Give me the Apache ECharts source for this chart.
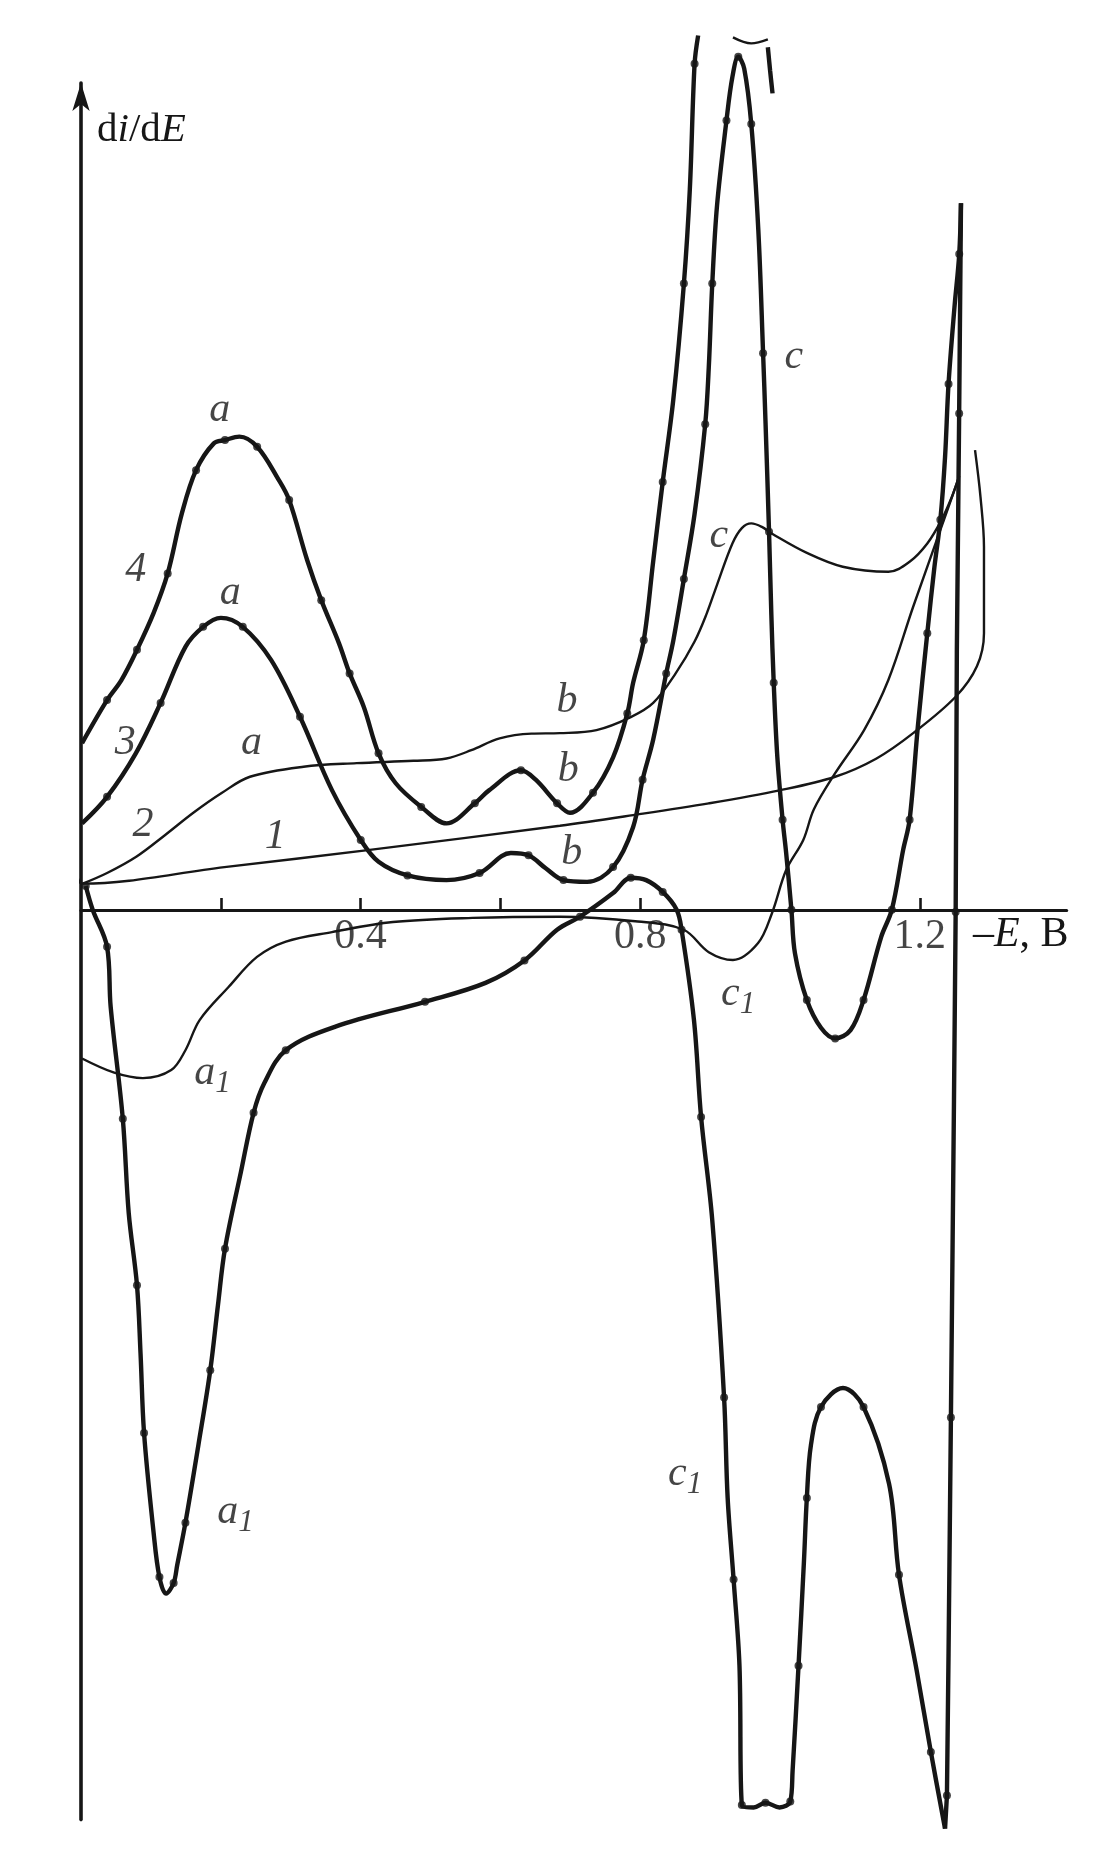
<!DOCTYPE html>
<html><head><meta charset="utf-8">
<script src="https://cdn.jsdelivr.net/npm/echarts@6/dist/echarts.min.js"></script>
<style>html,body{margin:0;padding:0;background:#fff}#c{width:1114px;height:1852px}</style>
</head><body><div id="c"></div>
<script>
// Potential E (as -E, V) and derivative di/dE (arbitrary units)
const curve1 = [[-0.0571,0.243],[-0.0450,0.353],[-0.0314,0.406],[-0.0196,0.393],[-0.0095,0.343],[0.0024,0.223],
 [0.2052,0.363],[0.4103,0.507],[0.6851,0.713],[0.7899,0.803],[0.8981,0.903],[0.9994,1.013],[1.0789,1.128],[1.1381,1.283],
 [1.1905,1.497],[1.2513,1.805],[1.2817,2.063],[1.2918,2.343],[1.2918,3.073],[1.2868,3.498],[1.2790,3.893]];

const curve2Forward = [[0.0024,0.223],[0.0373,0.313],[0.0796,0.453],[0.1200,0.633],[0.1607,0.823],[0.2012,0.990],[0.2417,1.128],
 [0.3184,1.213],[0.3944,1.243],[0.4756,1.263],[0.5229,1.283],[0.5584,1.353],[0.5989,1.453],[0.6446,1.493],[0.6851,1.497],
 [0.7375,1.523],[0.7865,1.633],[0.8186,1.753],[0.8507,2.003],[0.8778,2.273],[0.8947,2.503],[0.9099,2.753],[0.9319,3.103],
 [0.9454,3.233],[0.9589,3.273],[0.9741,3.243],[0.9893,3.183],[1.0384,3.023],[1.0897,2.906],[1.1550,2.863],[1.1854,2.948],
 [1.2107,3.103],[1.2311,3.303],[1.2462,3.503],[1.2564,3.673]];

const curve2Reverse = [[1.2564,3.673],[1.2411,3.413],[1.1905,2.567],[1.1550,1.947],[1.1203,1.523],[1.0789,1.158],[1.0485,0.853],
 [1.0333,0.593],[1.0088,0.338],[0.9885,-0.027],[0.9684,-0.282],[0.9327,-0.423],[0.8981,-0.357],[0.8622,-0.167],[0.7967,-0.097],
 [0.6851,-0.057],[0.5601,-0.067],[0.4462,-0.102],[0.3590,-0.187],[0.2931,-0.267],[0.2518,-0.397],[0.2111,-0.652],[0.1697,-0.932],
 [0.1494,-1.187],[0.1291,-1.355],[0.0886,-1.423],[0.0475,-1.377],[0.0015,-1.257]];

const curve3Forward = [[0.0015,0.733],[0.0373,0.958],[0.0784,1.326],[0.1139,1.753],[0.1494,2.228],[0.1747,2.397],[0.2001,2.473],
 [0.2314,2.397],[0.2721,2.115],[0.3133,1.636],[0.3590,1.015],[0.4002,0.593],[0.4257,0.408],[0.4671,0.293],[0.5229,0.253],
 [0.5702,0.313],[0.6150,0.483],[0.6403,0.463],[0.6648,0.353],[0.6902,0.253],[0.7240,0.238],[0.7612,0.363],[0.7899,0.703],
 [0.8034,1.103],[0.8186,1.443],[0.8372,2.003],[0.8474,2.283],[0.8625,2.803],[0.8778,3.353],[0.8930,4.113],[0.8981,4.593],
 [0.9031,5.303],[0.9099,5.963],[0.9234,6.683],[0.9319,7.053],[0.9403,7.223],[0.9488,7.123],[0.9589,6.653],[0.9690,5.753],
 [0.9758,4.713],[0.9792,4.143],[0.9843,3.203],[0.9876,2.503],[0.9910,1.923],[0.9961,1.303],[1.0037,0.763],[1.0088,0.483],
 [1.0163,0.003],[1.0214,-0.367],[1.0384,-0.762],[1.0586,-0.997],[1.0789,-1.087],[1.1009,-1.017],[1.1195,-0.762],[1.1448,-0.227],
 [1.1600,0.003],[1.1761,0.507],[1.1854,0.763],[1.1972,1.553],[1.2107,2.343],[1.2209,2.903],[1.2294,3.303],[1.2361,3.833],
 [1.2411,4.453],[1.2496,5.103],[1.2564,5.553],[1.2589,5.983]];

const curve4Forward = [[0.0015,1.413],[0.0373,1.777],[0.0578,1.947],[0.0801,2.203],[0.1038,2.513],[0.1240,2.849],[0.1443,3.357],
 [0.1646,3.723],[0.1900,3.950],[0.2060,3.978],[0.2265,4.007],[0.2520,3.921],[0.2826,3.643],[0.2978,3.470],[0.3235,2.963],
 [0.3437,2.623],[0.3691,2.257],[0.3843,2.003],[0.4046,1.719],[0.4257,1.326],[0.4502,1.073],[0.4867,0.873],[0.5229,0.733],
 [0.5634,0.903],[0.5837,1.013],[0.6294,1.183],[0.6505,1.103],[0.6811,0.903],[0.6995,0.823],[0.7325,0.993],[0.7612,1.293],
 [0.7815,1.663],[0.7899,1.923],[0.8051,2.283],[0.8186,2.953],[0.8322,3.623],[0.8474,4.323],[0.8625,5.303],[0.8710,6.103],
 [0.8778,7.163],[0.8829,7.403]];
const curve4Return = [[0.9826,7.303],[0.9859,7.103],[0.9893,6.913]];
const breakMark = [[0.9327,7.387],[0.9589,7.336],[0.9826,7.370]];

const switchDrop = [[1.2589,5.983],[1.2563,4.203],[1.2530,2.203],[1.2513,-0.017],[1.2489,-1.607],[1.2445,-4.297],
 [1.2411,-6.297],[1.2388,-7.497],[1.2361,-7.777]];

const reverseSweep = [[1.2361,-7.777],[1.2158,-7.127],[1.1955,-6.437],[1.1702,-5.627],[1.1560,-4.857],[1.1195,-4.207],
 [1.0901,-4.047],[1.0586,-4.207],[1.0443,-4.527],[1.0384,-4.977],[1.0343,-5.507],[1.0265,-6.397],[1.0180,-7.287],[1.0147,-7.547],
 [0.9994,-7.597],[0.9792,-7.557],[0.9623,-7.597],[0.9454,-7.577],[0.9420,-6.397],[0.9336,-5.667],[0.9251,-4.977],[0.9200,-4.127],
 [0.9031,-2.627],[0.8871,-1.752],[0.8769,-0.932],[0.8592,-0.167],[0.8521,0.003],[0.8322,0.153],[0.8085,0.253],[0.7865,0.273],
 [0.7612,0.143],[0.7139,-0.057],[0.6811,-0.167],[0.6344,-0.427],[0.5787,-0.617],[0.4921,-0.777],[0.3640,-0.987],[0.2929,-1.187],
 [0.2621,-1.467],[0.2469,-1.717],[0.2288,-2.217],[0.2060,-2.867],[0.1959,-3.347],[0.1849,-3.897],[0.1680,-4.527],[0.1494,-5.187],
 [0.1376,-5.547],[0.1325,-5.697],[0.1217,-5.787],[0.1122,-5.647],[0.1038,-5.267],[0.0902,-4.427],[0.0852,-3.757],[0.0801,-3.177],
 [0.0683,-2.567],[0.0598,-1.767],[0.0424,-0.817],[0.0373,-0.312],[0.0167,0.003],[0.0068,0.203]];

const curveLabels = [
 ['a',0.1984,4.233],['4',0.0784,2.878],['a',0.2136,2.683],['3',0.0632,1.413],['a',0.2440,1.413],
 ['2',0.0886,0.723],['1',0.2778,0.618],['b',0.6953,1.773],['b',0.6970,1.183],['b',0.7020,0.483],
 ['c',0.9126,3.163],['c',1.0197,4.683],['c{s|1}',0.9400,-0.707],['a{s|1}',0.1883,-1.377],
 ['a{s|1}',0.2212,-5.097],['c{s|1}',0.8643,-4.777]];

const tickValues = [0.2,0.4,0.6,0.8,1.2];
const labelValues = [0.4,0.8,1.2];

const serif = '"Liberation Serif","DejaVu Serif",serif';
const ink = '#161616';
const chart = echarts.init(document.getElementById('c'));

function thin(data){return {type:'line',data,smooth:0.35,showSymbol:false,clip:false,silent:true,
  lineStyle:{color:ink,width:2.4},z:3};}
function thick(data,sm){return {type:'line',data,smooth:sm===undefined?0.35:sm,showSymbol:false,clip:false,silent:true,
  lineStyle:{color:ink,width:4.4},z:4};}
const dotData = [];
[curve3Forward,curve4Forward,switchDrop,reverseSweep].forEach(a=>a.forEach((p,i)=>{if(i%2===1)dotData.push(p);}));

chart.setOption({
  animation:false,
  backgroundColor:'#fff',
  grid:{left:81,right:47.4,top:83.1,bottom:32.4,containLabel:false,outerBoundsMode:'none'},
  xAxis:{type:'value',min:0,max:1.41,interval:0.2,
    axisLine:{onZero:true,lineStyle:{color:ink,width:3.2}},
    axisTick:{show:true,inside:true,length:12,customValues:tickValues,lineStyle:{color:ink,width:2.6}},
    axisLabel:{show:false},
    splitLine:{show:false},
    name:'–{i|E}, B',nameLocation:'end',nameGap:2,
    nameTextStyle:{fontFamily:serif,fontSize:42,color:ink,align:'right',verticalAlign:'middle',padding:[50,0,0,0],
      rich:{i:{fontFamily:serif,fontSize:42,fontStyle:'italic',color:ink}}}
  },
  yAxis:{type:'value',min:-7.7,max:7.0,
    axisLine:{show:true,onZero:true,symbol:['none','arrow'],symbolSize:[13,28],lineStyle:{color:ink,width:3.6}},
    axisTick:{show:false},axisLabel:{show:false},splitLine:{show:false},
    name:'d{i|i}/d{i|E}',nameLocation:'end',nameGap:-47,
    nameTextStyle:{fontFamily:serif,fontSize:41,color:ink,align:'left',verticalAlign:'middle',padding:[0,0,0,16],
      rich:{i:{fontFamily:serif,fontSize:41,fontStyle:'italic',color:ink}}}
  },
  series:[
    thin(curve1), thin(curve2Forward), thin(curve2Reverse), thin(breakMark),
    thick(curve3Forward), thick(curve4Forward), thick(curve4Return), thick(switchDrop,false), thick(reverseSweep),
    {type:'scatter',data:dotData,symbolSize:8,itemStyle:{color:ink},silent:true,clip:false,z:5},
    {type:'scatter',silent:true,clip:false,z:6,symbolSize:2,itemStyle:{color:'rgba(0,0,0,0)'},
     data:curveLabels.map(l=>({name:l[0],value:[l[1],l[2]]})),
     label:{show:true,position:'inside',formatter:p=>p.name,fontFamily:serif,fontSize:42,fontStyle:'italic',color:ink,
       rich:{s:{fontFamily:serif,fontSize:31,fontStyle:'italic',color:ink,padding:[22,0,0,0]}}}},
    {type:'scatter',silent:true,clip:false,z:6,symbolSize:2,itemStyle:{color:'rgba(0,0,0,0)'},
     data:labelValues.map(v=>[v,0]),
     label:{show:true,position:'inside',offset:[0,27],formatter:p=>p.value[0].toFixed(1),
       fontFamily:serif,fontSize:42,color:ink}}
  ]
});
</script></body></html>
